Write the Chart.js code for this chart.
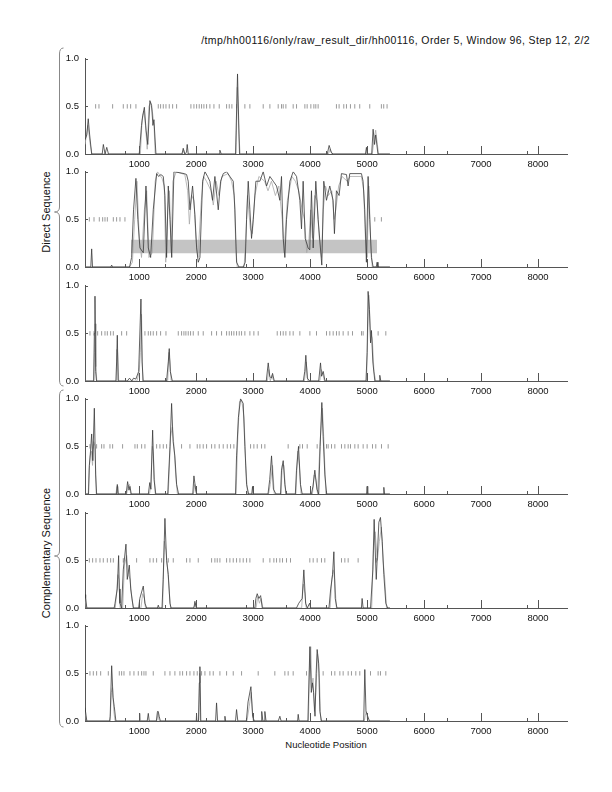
<!DOCTYPE html>
<html>
<head>
<meta charset="utf-8">
<script src="https://cdn.jsdelivr.net/npm/chart.js@4.4.1/dist/chart.umd.min.js"></script>
<style>
  html,body{margin:0;padding:0;background:#fff;}
  body{width:612px;height:792px;position:relative;overflow:hidden;font-family:"Liberation Sans",Arial,Helvetica,sans-serif;color:#111;}
  canvas.panel{position:absolute;left:0;}
  .txt{position:absolute;white-space:nowrap;line-height:1;color:#111;}
  #title{right:22px;top:35px;font-size:10.5px;letter-spacing:0.4px;}
  #xlabel{left:326px;top:740px;transform:translateX(-50%);font-size:9.5px;}
  .side{transform:translate(-50%,-50%) rotate(-90deg);font-size:11px;}
  #braces{position:absolute;left:0;top:0;}
</style>
</head>
<body>
<div id="title" class="txt">/tmp/hh00116/only/raw_result_dir/hh00116, Order 5, Window 96, Step 12, 2/2</div>
<div id="xlabel" class="txt">Nucleotide Position</div>
<div class="txt side" style="left:46px;top:212px;">Direct Sequence</div>
<div class="txt side" style="left:46px;top:553px;">Complementary Sequence</div>
<canvas id="braces" width="612" height="792"></canvas>
<script>
// ---------------- axis definitions ----------------
const xMin = 48, xMax = 8508;
const xMajorTicks = [1000, 2000, 3000, 4000, 5000, 6000, 7000, 8000];
const xMinorTicks = [753, 1458, 2163, 2868, 3573, 4278, 5688, 6393, 7803];
const yTicks = [0, 0.5, 1.0];

// ---------------- Panel 1 (direct, frame 1) ----------------
const p1Dark = [[48,0.15],[80,0.2],[105,0.37],[130,0.2],[165,0],[350,0],[370,0.1],[400,0],[430,0.07],[460,0],[1000,0],[1040,0.3],[1060,0.4],[1090,0.49],[1120,0.25],[1150,0.1],[1187,0.56],[1217,0.51],[1240,0.3],[1258,0.36],[1293,0],[1750,0],[1772,0.06],[1800,0],[1830,0.02],[1842,0.1],[1860,0],[2400,0],[2415,0.04],[2440,0],[2690,0],[2725,0.84],[2760,0],[4300,0],[4333,0.09],[4370,0.02],[4400,0],[4970,0],[4988,0.07],[5000,0],[5080,0],[5105,0.26],[5130,0.1],[5150,0.2],[5190,0],[5400,0]];
const p1Gray = [[48,0.1],[100,0.3],[140,0.1],[170,0],[1020,0],[1050,0.35],[1080,0.45],[1110,0.3],[1140,0.05],[1170,0.5],[1200,0.54],[1230,0.45],[1260,0.3],[1280,0],[1760,0],[1780,0.04],[1800,0],[2700,0],[2720,0.7],[2750,0.2],[2770,0],[4320,0],[4350,0.05],[4380,0],[5090,0],[5120,0.15],[5150,0.25],[5180,0.1],[5200,0],[5400,0]];
const p1Stops = [235,293,533,720,790,849,942,1334,1375,1422,1469,1527,1586,1656,1907,1960,2007,2053,2094,2135,2182,2240,2311,2404,2533,2580,2626,2708,2854,2942,3176,3293,3439,3497,3527,3574,3702,3761,3907,3947,4012,4065,4099,4140,4461,4508,4590,4637,4707,4783,4870,5046,5250,5291,5350];

// ---------------- Panel 2 (direct, frame 2) ----------------
const p2Dark = [[48,0],[150,0],[165,0.19],[180,0],[500,0],[516,0.02],[530,0],[830,0],[866,0.1],[900,0.6],[942,0.93],[975,0.5],[1012,0.2],[1071,0.15],[1118,0.85],[1159,0.2],[1200,0.1],[1246,0.6],[1305,0.98],[1340,0.95],[1380,0.97],[1422,0.95],[1451,0.75],[1480,0.1],[1510,0.85],[1540,0.5],[1570,0.1],[1609,1.0],[1700,0.99],[1790,0.98],[1831,0.97],[1860,0.9],[1890,0.6],[1936,0.85],[1977,0.55],[2007,0.2],[2036,0.05],[2065,0.1],[2112,0.9],[2153,1.0],[2200,0.95],[2240,0.9],[2287,0.7],[2328,0.95],[2387,0.6],[2428,0.9],[2475,0.98],[2533,1.0],[2591,0.95],[2650,0.9],[2679,0.6],[2708,0.05],[2750,0],[2825,0],[2860,0.05],[2884,0.5],[2913,0.9],[2942,0.6],[2971,0.3],[3001,0.5],[3047,0.9],[3117,0.9],[3176,1.0],[3235,0.85],[3293,0.95],[3352,0.9],[3410,0.85],[3468,0.7],[3497,0.95],[3527,0.3],[3556,0.1],[3585,0.5],[3644,0.9],[3702,1.0],[3761,0.95],[3819,0.7],[3848,0.4],[3877,0.9],[3913,0.3],[3964,0.2],[3993,0.18],[4023,0.8],[4053,0.2],[4099,0.9],[4140,0.5],[4180,0.2],[4204,0.02],[4239,0.9],[4286,0.7],[4344,0.85],[4403,0.7],[4426,0.35],[4461,0.8],[4508,0.75],[4549,0.98],[4637,0.97],[4666,0.85],[4695,0.98],[4900,0.98],[4929,0.9],[4958,0.6],[4987,0.05],[5017,0.95],[5046,0.5],[5075,0.1],[5105,0],[5160,0],[5175,0.05],[5190,0],[5400,0]];
const p2Gray = [[48,0],[830,0],[880,0.05],[920,0.5],[960,0.9],[1000,0.3],[1040,0.1],[1090,0.6],[1130,0.8],[1170,0.1],[1230,0.15],[1280,0.9],[1320,1.0],[1400,0.93],[1440,0.85],[1465,0.05],[1500,0.6],[1530,0.8],[1560,0.15],[1590,0.9],[1650,1.0],[1800,0.97],[1850,0.8],[1880,0.45],[1920,0.75],[1960,0.7],[1995,0.3],[2030,0.1],[2090,0.7],[2130,0.95],[2180,0.9],[2260,0.8],[2300,0.65],[2350,0.9],[2400,0.75],[2450,0.95],[2560,0.98],[2620,0.9],[2670,0.75],[2695,0.2],[2720,0],[2840,0],[2870,0.3],[2900,0.75],[2950,0.4],[2985,0.35],[3030,0.75],[3100,0.95],[3200,0.9],[3260,0.8],[3320,0.9],[3390,0.75],[3450,0.85],[3510,0.5],[3540,0.15],[3600,0.7],[3680,0.95],[3740,0.9],[3800,0.8],[3860,0.6],[3900,0.5],[3940,0.15],[3980,0.3],[4010,0.6],[4040,0.3],[4080,0.75],[4120,0.7],[4160,0.3],[4200,0.1],[4230,0.6],[4270,0.85],[4320,0.75],[4380,0.8],[4420,0.5],[4450,0.6],[4500,0.85],[4560,0.95],[4650,0.9],[4700,0.95],[4900,0.95],[4940,0.8],[4970,0.3],[5000,0.1],[5030,0.85],[5060,0.3],[5090,0],[5400,0]];
const p2Stops = [124,206,299,358,399,440,545,603,662,749,5134,5250];
const p2Box = {start: 855, end: 5175, low: 0.143, high: 0.285};

// ---------------- Panel 3 (direct, frame 3) ----------------
const p3Dark = [[48,0],[200,0],[212,0.5],[223,0.89],[235,0.1],[250,0],[590,0],[603,0.2],[615,0.48],[630,0],[790,0],[830,0.03],[870,0],[900,0.03],[940,0.02],[990,0.1],[1030,0.86],[1050,0.2],[1070,0],[1480,0],[1510,0.2],[1527,0.34],[1545,0.1],[1580,0],[3230,0],[3264,0.19],[3290,0.05],[3320,0.03],[3340,0.08],[3370,0],[3880,0],[3905,0.1],[3924,0.27],[3950,0.03],[3990,0],[4150,0],[4182,0.19],[4200,0.05],[4230,0.1],[4260,0],[4980,0],[5000,0.3],[5017,0.94],[5040,0.75],[5060,0.4],[5076,0.53],[5100,0.2],[5135,0],[5210,0],[5222,0.06],[5240,0],[5400,0]];
const p3Gray = [[48,0],[205,0],[215,0.3],[228,0.6],[240,0.15],[255,0],[595,0],[605,0.33],[620,0.3],[640,0],[960,0],[1000,0.1],[1020,0.3],[1040,0.7],[1060,0],[1500,0],[1520,0.3],[1540,0.2],[1560,0],[3250,0],[3275,0.12],[3300,0],[3330,0.06],[3360,0],[3900,0],[3930,0.2],[3960,0],[4170,0],[4195,0.12],[4220,0.08],[4250,0],[4990,0],[5010,0.5],[5030,0.9],[5060,0.5],[5090,0.45],[5120,0.1],[5150,0],[5400,0]];
const p3Stops = [135,206,270,340,399,440,498,545,691,779,1100,1159,1200,1246,1305,1375,1469,1685,1743,1784,1819,1860,1901,1948,2036,2123,2270,2357,2445,2533,2580,2620,2661,2708,2755,2796,2854,2942,3012,3088,3422,3480,3527,3574,3644,3702,3819,3995,4111,4287,4345,4404,4462,4509,4579,4667,4743,4901,4930,5193,5328];

// ---------------- Panel 4 (complementary, frame 1) ----------------
const p4Dark = [[48,0],[110,0],[124,0.3],[145,0.45],[165,0.63],[185,0.35],[212,0.9],[235,0.2],[252,0],[600,0],[615,0.1],[630,0],[770,0],[796,0.13],[820,0.04],[837,0.08],[860,0],[1160,0],[1185,0.12],[1205,0.05],[1235,0.67],[1260,0.15],[1290,0],[1500,0],[1540,0.5],[1568,0.95],[1595,0.55],[1625,0.4],[1656,0.1],[1690,0],[1940,0],[1960,0.19],[1990,0.05],[2010,0],[2690,0],[2708,0.4],[2740,0.8],[2778,1.0],[2825,0.95],[2854,0.5],[2884,0.1],[2920,0],[2975,0],[2989,0.08],[3000,0],[3260,0],[3290,0.15],[3322,0.4],[3355,0.05],[3400,0],[3480,0],[3497,0.25],[3527,0.35],[3556,0.1],[3580,0],[3740,0],[3760,0.25],[3796,0.5],[3830,0.1],[3860,0],[4020,0],[4050,0.08],[4082,0.25],[4120,0.05],[4150,0],[4175,0.5],[4205,0.96],[4228,0.6],[4258,0.2],[4290,0],[4990,0],[5000,0.08],[5010,0],[5280,0],[5293,0.07],[5305,0],[5400,0]];
const p4Gray = [[48,0],[105,0],[120,0.25],[140,0.4],[160,0.45],[180,0.3],[200,0.55],[225,0.5],[245,0],[590,0],[610,0.08],[625,0],[780,0],[800,0.08],[830,0.1],[850,0],[1180,0],[1200,0.08],[1230,0.5],[1250,0.4],[1280,0],[1510,0],[1550,0.6],[1580,0.7],[1610,0.5],[1640,0.2],[1670,0],[1950,0],[1975,0.1],[2000,0],[2700,0],[2730,0.6],[2760,0.97],[2800,0.98],[2840,0.8],[2870,0.3],[2900,0],[3270,0],[3300,0.1],[3340,0.3],[3370,0],[3490,0],[3510,0.3],[3540,0.3],[3570,0],[3750,0],[3780,0.45],[3810,0.3],[3840,0],[4040,0],[4070,0.2],[4100,0.15],[4130,0],[4180,0.6],[4215,0.9],[4245,0.5],[4275,0],[5400,0]];
const p4Stops = [135,194,252,340,381,486,533,708,925,966,1042,1100,1305,1363,1422,1480,1743,1890,2018,2065,2123,2182,2270,2328,2404,2474,2545,2603,2661,2954,3012,3071,3147,3205,3614,3819,3866,3948,4123,4287,4316,4375,4433,4550,4609,4667,4708,4784,4842,4930,5000,5094,5152,5252,5369];

// ---------------- Panel 5 (complementary, frame 2) ----------------
const p5Dark = [[48,0.14],[59,0.11],[80,0],[560,0],[575,0.05],[615,0.2],[638,0.55],[650,0.2],[662,0.05],[690,0],[720,0.4],[767,0.67],[790,0.3],[826,0.45],[850,0.2],[896,0],[990,0],[1010,0.1],[1071,0.23],[1100,0.05],[1130,0],[1320,0],[1334,0.03],[1350,0],[1400,0],[1420,0.3],[1451,0.94],[1480,0.5],[1510,0.35],[1539,0.05],[1560,0],[1960,0],[1977,0.07],[2000,0],[3030,0],[3047,0.1],[3071,0.15],[3100,0.1],[3130,0.13],[3160,0],[3760,0],[3800,0.05],[3860,0.1],[3889,0.4],[3920,0.05],[3950,0],[3990,0.05],[4010,0],[4330,0],[4360,0.2],[4393,0.35],[4416,0.59],[4440,0.1],[4470,0],[4900,0],[4912,0.1],[4930,0],[5060,0],[5100,0.4],[5123,0.93],[5160,0.3],[5206,0.9],[5234,0.95],[5265,0.7],[5293,0.35],[5328,0.05],[5360,0],[5400,0]];
const p5Gray = [[48,0.1],[70,0],[580,0],[600,0.15],[625,0.35],[645,0.3],[665,0],[710,0],[740,0.45],[780,0.55],[810,0.35],[840,0.3],[870,0.1],[900,0],[1030,0],[1060,0.15],[1090,0.1],[1110,0],[1410,0],[1440,0.7],[1470,0.6],[1500,0.4],[1530,0.15],[1550,0],[1950,0],[1990,0.05],[2010,0],[3050,0],[3080,0.12],[3110,0.05],[3140,0.1],[3170,0],[3850,0],[3880,0.25],[3910,0.15],[3930,0],[4350,0],[4380,0.3],[4405,0.4],[4430,0.3],[4460,0],[5080,0],[5110,0.6],[5140,0.8],[5180,0.5],[5215,0.7],[5250,0.85],[5280,0.5],[5310,0.3],[5340,0],[5400,0]];
const p5Stops = [124,182,241,311,369,440,498,545,720,954,1188,1246,1305,1393,1510,1597,1831,1890,2036,2270,2328,2369,2416,2533,2591,2650,2708,2767,2825,2884,2942,3176,3293,3363,3410,3468,3515,3585,3655,3994,4053,4123,4199,4257,4550,4609,4667,4842,5160];

// ---------------- Panel 6 (complementary, frame 3) ----------------
const p6Dark = [[48,0.14],[59,0.14],[80,0],[480,0],[490,0.05],[516,0.58],[540,0.25],[562,0.15],[590,0],[1140,0],[1159,0.08],[1175,0],[1300,0],[1320,0.1],[1334,0.1],[1350,0.05],[1370,0],[2040,0],[2055,0.4],[2065,0.57],[2080,0],[2340,0],[2357,0.19],[2375,0],[2495,0],[2504,0.05],[2515,0],[2690,0],[2708,0.12],[2730,0],[2880,0],[2910,0.2],[2960,0.36],[2990,0.05],[3020,0],[3140,0],[3150,0.1],[3170,0],[3190,0],[3205,0.1],[3225,0],[3440,0],[3468,0.05],[3490,0],[3780,0],[3790,0.07],[3805,0],[3960,0],[3995,0.78],[4020,0.3],[4040,0.4],[4060,0.3],[4085,0.05],[4105,0.5],[4123,0.75],[4150,0.6],[4170,0.1],[4200,0],[4940,0],[4959,0.54],[4980,0.1],[5010,0.05],[5040,0],[5400,0]];
const p6Gray = [[48,0.1],[70,0],[490,0],[510,0.3],[530,0.35],[555,0.1],[575,0],[1000,0],[1012,0.08],[1025,0],[1310,0],[1330,0.08],[1350,0],[1995,0],[2007,0.07],[2020,0],[2045,0],[2060,0.5],[2075,0],[2890,0],[2930,0.15],[2965,0.3],[3000,0],[3970,0],[3990,0.6],[4010,0.78],[4030,0.35],[4050,0.45],[4075,0.1],[4100,0.3],[4130,0.7],[4160,0.5],[4185,0],[4950,0],[4975,0.08],[4990,0.1],[5010,0],[5400,0]];
const p6Stops = [135,194,252,323,457,650,691,732,837,907,983,1042,1083,1118,1246,1451,1539,1626,1714,1761,1831,1890,1960,2018,2094,2153,2240,2299,2416,2533,2650,2796,3088,3380,3556,3614,3702,3936,4228,4375,4433,4521,4579,4667,4725,4801,4871,5059,5193,5234,5328];

const panels = [
  {dark:p1Dark, gray:p1Gray, stops:p1Stops},
  {dark:p2Dark, gray:p2Gray, stops:p2Stops, box:p2Box},
  {dark:p3Dark, gray:p3Gray, stops:p3Stops},
  {dark:p4Dark, gray:p4Gray, stops:p4Stops},
  {dark:p5Dark, gray:p5Gray, stops:p5Stops},
  {dark:p6Dark, gray:p6Gray, stops:p6Stops}
];

// ---------------- layout ----------------
const FONT = '"Liberation Sans", Arial, Helvetica, sans-serif';
const firstTop = 55, pitch = 113.45, plotH = 99, padTop = 8, xAxisH = 18;
const AXIS = '#555';

const inwardTicks = {
  id: 'inwardTicks',
  afterDatasetsDraw(chart) {
    const ctx = chart.ctx, xs = chart.scales.x, ys = chart.scales.y, a = chart.chartArea;
    ctx.save();
    ctx.strokeStyle = AXIS; ctx.lineWidth = 1;
    ctx.beginPath();
    xMajorTicks.forEach(v => { const p = Math.round(xs.getPixelForValue(v)) + 0.5; ctx.moveTo(p, a.bottom); ctx.lineTo(p, a.bottom - 8); });
    xMinorTicks.forEach(v => { const p = Math.round(xs.getPixelForValue(v)) + 0.5; ctx.moveTo(p, a.bottom); ctx.lineTo(p, a.bottom - 3); });
    yTicks.forEach(v => { const p = Math.round(ys.getPixelForValue(v)) + 0.5; ctx.moveTo(a.left, p); ctx.lineTo(a.left + 3, p); });
    ctx.stroke();
    ctx.restore();
  }
};

const toXY = arr => arr.map(([x, y]) => ({x, y}));

panels.forEach((p, i) => {
  const cv = document.createElement('canvas');
  cv.className = 'panel';
  const h = padTop + plotH + xAxisH;
  cv.width = 612; cv.height = h;
  cv.style.width = '612px'; cv.style.height = h + 'px';
  cv.style.top = (firstTop + i * pitch - padTop) + 'px';
  document.body.appendChild(cv);

  const datasets = [
    {type:'line', data: toXY(p.dark), borderColor:'#3a3a3a', borderWidth:0.8, pointRadius:0, tension:0, order:1},
    {type:'line', data: toXY(p.gray), borderColor:'#aaaaaa', borderWidth:0.8, pointRadius:0, tension:0, order:2},
    {type:'scatter', data: p.stops.map(x => ({x, y:0.5})), pointStyle:'line', rotation:90, radius:2.2,
      borderColor:'#9a9a9a', backgroundColor:'#9a9a9a', borderWidth:1, showLine:false, order:3}
  ];
  if (p.box) {
    datasets.push({type:'line', data:[{x:p.box.start, y:p.box.high},{x:p.box.end, y:p.box.high}],
      borderWidth:0, borderColor:'rgba(0,0,0,0)', pointRadius:0, fill:{value:p.box.low},
      backgroundColor:'#c4c4c4', order:10});
  }

  new Chart(cv, {
    data: {datasets},
    plugins: [inwardTicks],
    options: {
      responsive:false, animation:false, devicePixelRatio:1,
      layout:{padding:{top:padTop, right:612-567, left:0, bottom:0}},
      plugins:{legend:{display:false}, tooltip:{enabled:false}},
      scales:{
        x:{type:'linear', min:xMin, max:xMax,
           afterBuildTicks: s => { s.ticks = xMajorTicks.map(v => ({value:v})); },
           afterFit: s => { s.height = xAxisH; },
           grid:{display:false, drawTicks:false},
           border:{display:true, color:AXIS, width:1},
           ticks:{autoSkip:false, maxRotation:0, padding:5, color:'#111', font:{family:FONT, size:9.5}, callback:v => String(v)}},
        y:{type:'linear', min:0, max:1,
           afterBuildTicks: s => { s.ticks = yTicks.map(v => ({value:v})); },
           afterFit: s => { s.width = 85; },
           grid:{display:false, drawTicks:false},
           border:{display:true, color:AXIS, width:1},
           ticks:{padding:6, color:'#111', font:{family:FONT, size:9.5}, callback:v => Number(v).toFixed(1)}}
      }
    }
  });
});

// ---------------- braces ----------------
(function(){
  const ctx = document.getElementById('braces').getContext('2d');
  ctx.strokeStyle = '#888'; ctx.lineWidth = 1;
  function brace(y1, ym, y2) {
    const sx = 59.5, tip = 54.5, ex = 63.5;
    ctx.beginPath();
    ctx.moveTo(ex, y1);
    ctx.quadraticCurveTo(sx, y1, sx, y1 + 6);
    ctx.lineTo(sx, ym - 5);
    ctx.quadraticCurveTo(sx, ym, tip, ym);
    ctx.quadraticCurveTo(sx, ym, sx, ym + 5);
    ctx.lineTo(sx, y2 - 6);
    ctx.quadraticCurveTo(sx, y2, ex, y2);
    ctx.stroke();
  }
  brace(48, 212, 386);
  brace(390, 556, 727);
})();
</script>
</body>
</html>
